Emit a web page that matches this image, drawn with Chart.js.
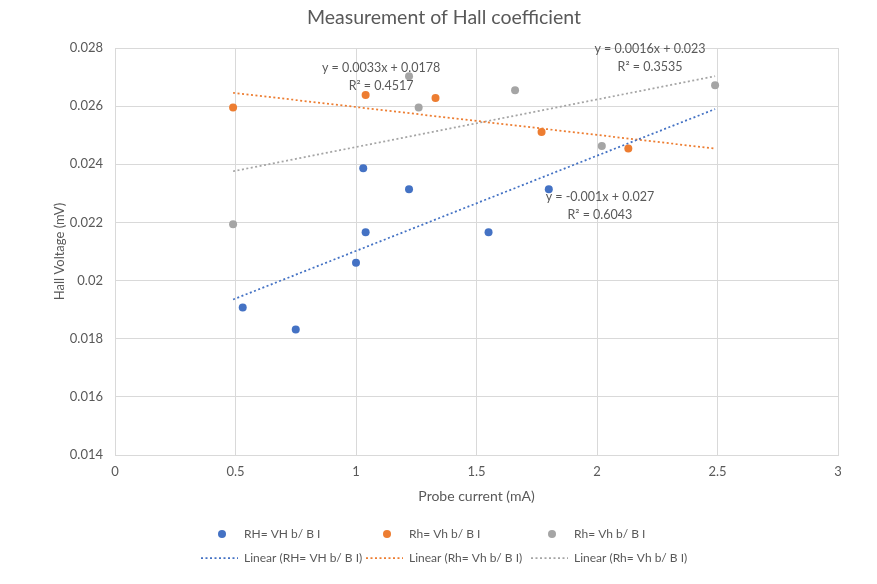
<!DOCTYPE html>
<html>
<head>
<meta charset="utf-8">
<script src="https://cdn.jsdelivr.net/npm/chart.js@4"></script>
<style>
html, body { margin: 0; padding: 0; background: #fff; }
</style>
</head>
<body>
<canvas id="hallChart" width="877" height="584"></canvas>
<script>
// Values

const seriesNames = ["RH= VH b/ B I", "Rh= Vh b/ B I", "Rh= Vh b/ B I"];

const blueX = [0.53, 0.75, 1.0, 1.04, 1.03, 1.22, 1.55, 1.80];
const blueY = [0.01907, 0.01832, 0.02061, 0.02166, 0.02386, 0.02314, 0.02166, 0.02314];

const orangeX = [0.49, 1.04, 1.33, 1.77, 2.13];
const orangeY = [0.02595, 0.02638, 0.02628, 0.02511, 0.02454];

const grayX = [0.49, 1.22, 1.26, 1.66, 2.02, 2.49];
const grayY = [0.02194, 0.02703, 0.02595, 0.02655, 0.02463, 0.02672];

// trendline ends
const trendX = [0.49, 2.49];
const blueTrend = [0.01935, 0.02590];
const orangeTrend = [0.02646, 0.02454];
const grayTrend = [0.02376, 0.02703];

const xTicks = [0, 0.5, 1, 1.5, 2, 2.5, 3];
const yTicks = [0.014, 0.016, 0.018, 0.02, 0.022, 0.024, 0.026, 0.028];

const equations = [
	["y = 0.0033x + 0.0178", "R\u00b2 = 0.4517"],
	["y = 0.0016x + 0.023", "R\u00b2 = 0.3535"],
	["y = -0.001x + 0.027", "R\u00b2 = 0.6043"]
];

const colors = ["#4472C4", "#ED7D31", "#A5A5A5"];
const textColor = "#595959";
const fontName = "Lato, 'Liberation Sans', sans-serif";

// where the equation boxes sit (data coords, centre of first line)
const eqAnchors = [[1.104, 0.02731], [2.22, 0.02797], [2.012, 0.02286]];

function pts(xs, ys){
	return xs.map((x, i) => ({ x: x, y: ys[i] }));
}

function pointSet(i, xs, ys){
	return {
		label: seriesNames[i],
		data: pts(xs, ys),
		backgroundColor: colors[i],
		borderColor: colors[i],
		pointRadius: 4,
		pointHoverRadius: 4,
		pointBorderWidth: 0,
		showLine: false,
		order: 0
	};
}

function trendSet(i, ys){
	return {
		label: "Linear (" + seriesNames[i] + ")",
		data: pts(trendX, ys),
		borderColor: colors[i],
		backgroundColor: colors[i],
		borderWidth: 1.75,
		borderDash: [2, 2.5],
		pointRadius: 0,
		showLine: true,
		fill: false,
		order: 1
	};
}

// Title, equations and the two-row legend
const extras = {
	id: "extras",
	afterDraw(chart){
		const ctx = chart.ctx;
		const xs = chart.scales.x, ys = chart.scales.y;
		ctx.save();
		ctx.fillStyle = textColor;
		ctx.textAlign = "center";
		ctx.textBaseline = "middle";
		ctx.font = "19.5px " + fontName;
		ctx.fillText("Measurement of Hall coefficient", 444, 18);

		ctx.font = "12.5px " + fontName;
		equations.forEach((eq, i) => {
			let px = xs.getPixelForValue(eqAnchors[i][0]);
			let py = ys.getPixelForValue(eqAnchors[i][1]);
			ctx.fillText(eq[0], px, py);
			ctx.fillText(eq[1], px, py + 18);
		});

		// legend
		ctx.textAlign = "left";
		ctx.font = "12px " + fontName;
		const cols = [244, 409, 574];
		chart.data.datasets.forEach((ds, k) => {
			let col = k % 3;
			let row = Math.floor(k / 3);
			let ty = row === 0 ? 534 : 558;
			let tx = cols[col];
			if (row === 0) {
				ctx.fillStyle = ds.backgroundColor;
				ctx.beginPath();
				ctx.arc(tx - 22, ty, 4, 0, Math.PI * 2);
				ctx.fill();
			} else {
				ctx.strokeStyle = ds.borderColor;
				ctx.lineWidth = 1.75;
				ctx.setLineDash([2, 2.5]);
				ctx.beginPath();
				ctx.moveTo(tx - 43, ty);
				ctx.lineTo(tx - 6, ty);
				ctx.stroke();
				ctx.setLineDash([]);
			}
			ctx.fillStyle = textColor;
			ctx.fillText(ds.label, tx, ty);
		});
		ctx.restore();
	}
};

const ctx = document.getElementById("hallChart").getContext("2d");
new Chart(ctx, {
	type: "scatter",
	data: {
		datasets: [
			pointSet(0, blueX, blueY),
			pointSet(1, orangeX, orangeY),
			pointSet(2, grayX, grayY),
			trendSet(0, blueTrend),
			trendSet(1, orangeTrend),
			trendSet(2, grayTrend)
		]
	},
	options: {
		responsive: false,
		animation: false,
		layout: { padding: { left: 0, right: 39, top: 48, bottom: 75 } },
		plugins: {
			legend: { display: false },
			title: { display: false },
			tooltip: { enabled: false }
		},
		scales: {
			x: {
				type: "linear",
				min: 0,
				max: 3,
				afterBuildTicks(scale){ scale.ticks = xTicks.map(v => ({ value: v })); },
				afterFit(scale){ scale.height = 54; },
				grid: { color: "#d9d9d9", drawTicks: false },
				border: { color: "#d9d9d9" },
				ticks: {
					padding: 9,
					color: textColor,
					font: { family: fontName, size: 13 },
					callback: v => String(v)
				},
				title: {
					display: true,
					text: "Probe current (mA)",
					color: textColor,
					font: { family: fontName, size: 14 },
					padding: { top: 7 }
				}
			},
			y: {
				type: "linear",
				min: 0.014,
				max: 0.028,
				afterBuildTicks(scale){ scale.ticks = yTicks.map(v => ({ value: v })); },
				afterFit(scale){ scale.width = 115; },
				grid: { color: "#d9d9d9", drawTicks: false },
				border: { color: "#d9d9d9" },
				ticks: {
					padding: 12,
					color: textColor,
					font: { family: fontName, size: 13 },
					callback: v => String(parseFloat(v.toFixed(3)))
				},
				title: {
					display: true,
					text: "Hall Voltage (mV)",
					color: textColor,
					font: { family: fontName, size: 13 },
					padding: { top: 52 }
				}
			}
		}
	},
	plugins: [extras]
});
</script>
</body>
</html>
